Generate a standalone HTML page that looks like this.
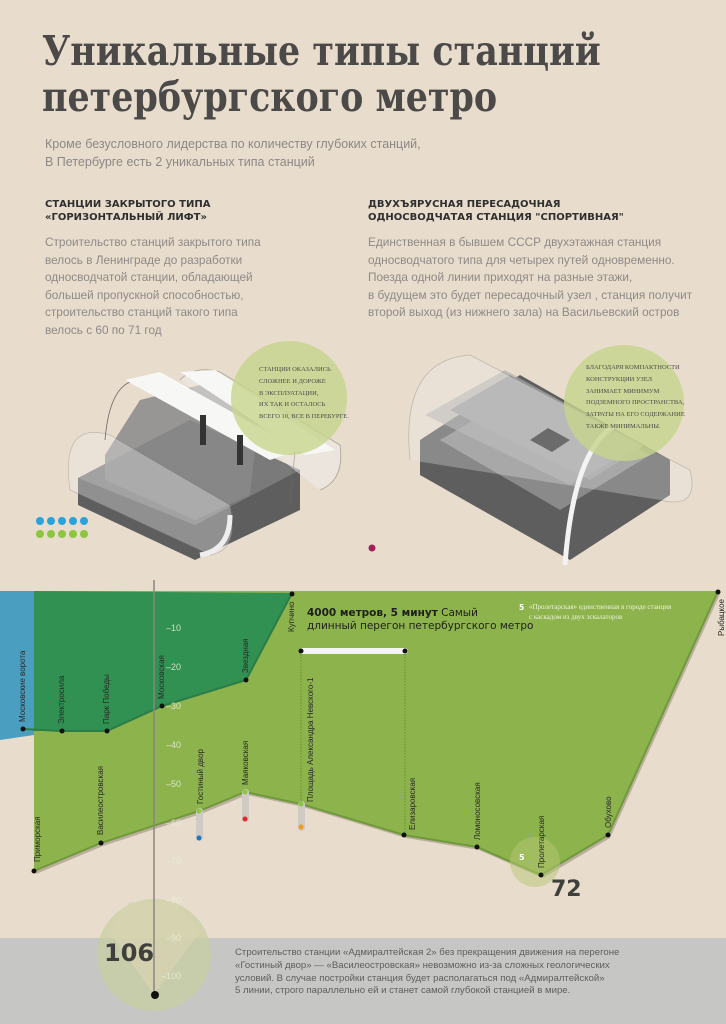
<!DOCTYPE html>
<html><head><meta charset="utf-8"><style>
body{margin:0;width:726px;height:1024px;overflow:hidden;background:#e8dccc;font-family:"Liberation Sans","Noto Sans CJK SC",sans-serif;position:relative}
.a{position:absolute;margin:0}
h1{position:absolute;left:42px;top:28px;margin:0;font-family:"DejaVu Serif",serif;font-weight:bold;font-size:41px;line-height:46px;color:#4b4a48;transform:scaleX(0.85);transform-origin:0 0;white-space:nowrap}
.sub{left:45px;top:135px;font-size:12.5px;line-height:18px;color:#8c8884}
.h{font-size:10px;font-weight:bold;line-height:12.5px;color:#2f2f2f;font-family:"DejaVu Sans",sans-serif}
.b{font-size:11.8px;line-height:17.6px;color:#8e8a86}
</style></head><body>
<h1>Уникальные типы станций<br>петербургского метро</h1>
<div class="a sub">Кроме безусловного лидерства по количеству глубоких станций,<br>В Петербурге есть 2 уникальных типа станций</div>
<div class="a h" style="left:45px;top:199px">СТАНЦИИ ЗАКРЫТОГО ТИПА<br>«ГОРИЗОНТАЛЬНЫЙ ЛИФТ»</div>
<div class="a h" style="left:368px;top:199px">ДВУХЪЯРУСНАЯ ПЕРЕСАДОЧНАЯ<br>ОДНОСВОДЧАТАЯ СТАНЦИЯ "СПОРТИВНАЯ"</div>
<div class="a b" style="left:45px;top:234px">Строительство станций закрытого типа<br>велось в Ленинграде до разработки<br>односводчатой станции, обладающей<br>большей пропускной способностью,<br>строительство станций такого типа<br>велось с 60 по 71 год</div>
<div class="a b" style="left:368px;top:234px">Единственная в бывшем СССР двухэтажная станция<br>односводчатого типа для четырех путей одновременно.<br>Поезда одной линии приходят на разные этажи,<br>в будущем это будет пересадочный узел , станция получит<br>второй выход (из нижнего зала) на Васильевский остров</div>

<svg class="a" style="left:0;top:0" width="726" height="1024">
<!-- left illustration -->
<g>
<polygon points="78,478 190,420 300,470 300,510 195,560 78,505" fill="#5e5e5e"/>
<polygon points="78,478 190,420 300,470 195,525" fill="#7a7a7a"/>
<polygon points="105,455 140,400 200,385 260,405 250,495 195,520 105,480" fill="#8a8a8a" opacity=".85"/>
<path d="M70,490 Q60,420 110,435 L230,505 Q240,550 210,555 Z" fill="#eee" opacity=".35" stroke="#777" stroke-width=".7"/>
<path d="M105,440 Q110,380 140,380 L295,450 L290,505" fill="none" stroke="#666" stroke-width=".8"/>
<path d="M180,380 Q195,365 220,372 L340,445 Q345,480 320,490" fill="#eee" opacity=".5" stroke="#666" stroke-width=".8"/>
<polygon points="125,380 160,372 300,450 270,460" fill="#f7f7f5"/>
<polygon points="180,372 215,370 335,450 305,455" fill="#f7f7f5"/>
<rect x="200" y="415" width="6" height="30" fill="#333"/><rect x="237" y="435" width="6" height="30" fill="#333"/>
<path d="M200,555 Q230,550 230,515" fill="none" stroke="#eee" stroke-width="5"/>
<ellipse cx="289" cy="398" rx="58" ry="57" fill="#c6d58c" opacity=".8"/>
</g>
<!-- right illustration -->
<g>
<polygon points="420,440 520,375 670,460 670,495 570,560 420,475" fill="#5e5e5e"/>
<polygon points="440,440 525,390 650,455 560,510" fill="#8a8a8a"/>
<polygon points="450,410 510,375 645,445 590,480" fill="#9a9a9a"/>
<polygon points="425,415 505,370 640,445 570,485" fill="#aaa" opacity=".6"/>
<polygon points="530,440 548,428 570,440 552,452" fill="#333"/>
<path d="M410,460 Q400,360 470,355 L690,470 Q700,510 660,500" fill="#eee" opacity=".3" stroke="#666" stroke-width=".8"/>
<path d="M565,565 Q575,430 630,420" fill="none" stroke="#f3f3f3" stroke-width="5"/>
<ellipse cx="624" cy="403" rx="60" ry="58" fill="#c6d58c" opacity=".8"/>
</g>
<g fill="#29a3dc"><circle cx="40" cy="521" r="4"/><circle cx="51" cy="521" r="4"/><circle cx="62" cy="521" r="4"/><circle cx="73" cy="521" r="4"/><circle cx="84" cy="521" r="4"/></g>
<g fill="#8cc63f"><circle cx="40" cy="534" r="4"/><circle cx="51" cy="534" r="4"/><circle cx="62" cy="534" r="4"/><circle cx="73" cy="534" r="4"/><circle cx="84" cy="534" r="4"/></g>
<circle cx="372" cy="548" r="3.5" fill="#a01e5a"/>

<!-- bottom band -->
<rect x="0" y="938" width="726" height="86" fill="#c6c6c4"/>
<ellipse cx="154" cy="955" rx="57" ry="56" fill="#c8cfa0" opacity=".7"/>
<polygon points="108,930 154,995 201,930 175,902 130,902" fill="#d8d3b0" opacity=".7"/>

<!-- chart -->
<g transform="translate(2,3)" opacity=".35" fill="#6b5a4a">
<polygon points="34,591 718,591 608,835 541,875 477,847 404,835 301,804 245,792 199,811 101,843 34,871"/>
</g>
<rect x="0" y="591" width="34" height="144" fill="#4a9ec0"/>
<polygon points="0,735 23,729 34,729 34,735 0,740" fill="#4a9ec0"/>
<polygon points="34,591 718,591 608,835 541,875 477,847 404,835 301,804 245,792 199,811 101,843 34,871" fill="#8db34c"/>
<polyline points="34,871 101,843 199,811 245,792 301,804 404,835 477,847 541,875 608,835 718,591" fill="none" stroke="#6f9a3a" stroke-width="2"/>
<polygon points="34,591 292,593 246,680 162,706 107,731 62,731 34,731" fill="#319152"/>
<polyline points="23,729 62,731 107,731 162,706 246,680 292,593" fill="none" stroke="#2b7c47" stroke-width="2"/>
<circle cx="535" cy="862" r="25" fill="#b5c874" opacity=".5"/>
<text x="519" y="860" font-size="8" font-weight="bold" fill="#fff" font-family="DejaVu Sans">5</text>
<line x1="154" y1="580" x2="154" y2="995" stroke="#8a857e" stroke-width="1.5"/>
<g font-size="9" fill="#e9efd9" opacity=".85" font-family="Liberation Sans Narrow,Liberation Sans">
<text x="166" y="631">–10</text><text x="166" y="670">–20</text><text x="166" y="709">–30</text><text x="166" y="748">–40</text><text x="166" y="787">–50</text><text x="166" y="826">–60</text><text x="166" y="864">–70</text><text x="166" y="903">–80</text><text x="166" y="941">–90</text><text x="161" y="979">–100</text>
</g>
<circle cx="155" cy="995" r="4" fill="#111"/>
<rect x="196" y="808" width="7" height="33" rx="3.5" fill="#cfcac4"/>
<rect x="242" y="789" width="7" height="33" rx="3.5" fill="#cfcac4"/>
<rect x="298" y="801" width="7" height="30" rx="3.5" fill="#cfcac4"/>
<circle cx="199" cy="811" r="2.5" fill="#8cc63f"/><circle cx="199" cy="838" r="2.5" fill="#1a78c2"/>
<circle cx="245" cy="792" r="2.5" fill="#8cc63f"/><circle cx="245" cy="819" r="2.5" fill="#e8262b"/>
<circle cx="301" cy="804" r="2.5" fill="#8cc63f"/><circle cx="301" cy="827" r="2.5" fill="#f39a1e"/>
<line x1="301" y1="651" x2="301" y2="802" stroke="#5c7d2a" stroke-width=".7" stroke-dasharray="1.5,1.5"/>
<line x1="405" y1="651" x2="405" y2="835" stroke="#5c7d2a" stroke-width=".7" stroke-dasharray="1.5,1.5"/>
<rect x="299" y="648" width="109" height="6" rx="3" fill="#f4f4f0"/>
<g fill="#111">
<circle cx="301" cy="651" r="2.5"/><circle cx="405" cy="651" r="2.5"/>
<circle cx="23" cy="729" r="2.5"/><circle cx="62" cy="731" r="2.5"/><circle cx="107" cy="731" r="2.5"/><circle cx="162" cy="706" r="2.5"/><circle cx="246" cy="680" r="2.5"/><circle cx="292" cy="594" r="2.5"/>
<circle cx="34" cy="871" r="2.5"/><circle cx="101" cy="843" r="2.5"/><circle cx="404" cy="835" r="2.5"/><circle cx="477" cy="847" r="2.5"/><circle cx="541" cy="875" r="2.5"/><circle cx="608" cy="835" r="2.5"/><circle cx="718" cy="592" r="2.5"/>
</g>
<g font-size="8" fill="#2a2a2a" font-family="Liberation Sans Narrow,Liberation Sans">
<text transform="translate(25,722) rotate(-90)">Московские ворота</text>
<text transform="translate(64,724) rotate(-90)">Электросила</text>
<text transform="translate(109,724) rotate(-90)">Парк Победы</text>
<text transform="translate(164,699) rotate(-90)">Московская</text>
<text transform="translate(248,673) rotate(-90)">Звездная</text>
<text transform="translate(294,632) rotate(-90)">Купчино</text>
<text transform="translate(40,862) rotate(-90)">Приморская</text>
<text transform="translate(103,835) rotate(-90)">Василеостровская</text>
<text transform="translate(203,804) rotate(-90)">Гостиный двор</text>
<text transform="translate(248,785) rotate(-90)">Маяковская</text>
<text transform="translate(313,802) rotate(-90)">Площадь Александра Невского-1</text>
<text transform="translate(415,830) rotate(-90)">Елизаровская</text>
<text transform="translate(480,840) rotate(-90)">Ломоносовская</text>
<text transform="translate(544,868) rotate(-90)">Пролетарская</text>
<text transform="translate(611,828) rotate(-90)">Обухово</text>
<text transform="translate(724,636) rotate(-90)">Рыбацкое</text>
</g>
<text x="307" y="616" font-size="10.5" fill="#1e1e1e" font-family="DejaVu Sans"><tspan font-weight="bold">4000 метров, 5 минут</tspan> Самый</text>
<text x="307" y="629" font-size="10.5" fill="#1e1e1e" font-family="DejaVu Sans">длинный перегон петербургского метро</text>
<text x="519" y="610" font-size="7.5" font-weight="bold" fill="#fff" font-family="DejaVu Sans">5</text>
<g font-size="7" fill="#eef3dd" font-family="Liberation Serif"><text x="529" y="609">«Пролетарская» единственная в городе станция</text><text x="529" y="619">с каскадом из двух эскалаторов</text></g>
<text x="551" y="896" font-size="22" font-weight="bold" fill="#3f3f3b" font-family="DejaVu Sans">72</text>
<text x="104" y="961" font-size="24" font-weight="bold" fill="#3f3f3b" font-family="DejaVu Sans">106</text>
</svg>
<div class="a" style="left:259px;top:364px;font-family:'Liberation Serif',serif;font-size:6.5px;line-height:11.8px;color:#4c4c48">СТАНЦИИ ОКАЗАЛИСЬ<br>СЛОЖНЕЕ И ДОРОЖЕ<br>В ЭКСПЛУАТАЦИИ,<br>ИХ ТАК И ОСТАЛОСЬ<br>ВСЕГО 10, ВСЕ В ПЕРЕБУРГЕ.</div>
<div class="a" style="left:586px;top:362px;font-family:'Liberation Serif',serif;font-size:6.5px;line-height:11.8px;color:#4c4c48">БЛАГОДАРЯ КОМПАКТНОСТИ<br>КОНСТРУКЦИИ УЗЕЛ<br>ЗАНИМАЕТ МИНИМУМ<br>ПОДЗЕМНОГО ПРОСТРАНСТВА,<br>ЗАТРАТЫ НА ЕГО СОДЕРЖАНИЕ<br>ТАКЖЕ МИНИМАЛЬНЫ.</div>
<div class="a" style="left:235px;top:947px;font-size:9.6px;line-height:12.8px;color:#5e5e5c;font-family:'Liberation Sans Narrow','Liberation Sans',sans-serif">Строительство станции «Адмиралтейская 2» без прекращения движения на перегоне<br>«Гостиный двор» — «Василеостровская» невозможно из-за сложных геологических<br>условий. В случае постройки станция будет располагаться под «Адмиралтейской»<br>5 линии, строго параллельно ей и станет самой глубокой станцией в мире.</div>
</body></html>
